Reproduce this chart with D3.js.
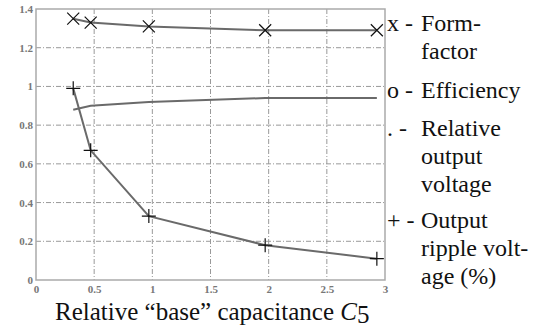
<!DOCTYPE html>
<html lang="en">
<head>
    <meta charset="UTF-8"/>
    <title>Relative base capacitance</title>
    <script src="https://d3js.org/d3.v7.min.js"></script>
    <style>
        body { margin: 0; background: white; }
        svg text { font-family: "Liberation Serif", "Times New Roman", Times, "DejaVu Serif", serif; }
    </style>
</head>
<body>
<svg id="chart" width="536" height="330"></svg>
<script>
    // values
    const capacitance = [0.32, 0.47, 0.97, 1.97, 2.93];
    const formFactor = [1.35, 1.33, 1.31, 1.29, 1.29];
    const efficiency = [0.88, 0.90, 0.92, 0.94, 0.94];
    const ripple = [0.99, 0.67, 0.33, 0.18, 0.11];

    const xTicks = [0, 0.5, 1, 1.5, 2, 2.5, 3];
    const xTickLabels = ["0", "0.5", "1", "1.5", "2", "2.5", "3"];
    const yTicks = [0, 0.2, 0.4, 0.6, 0.8, 1, 1.2, 1.4];
    const yTickLabels = ["0", "0.2", "0.4", "0.6", "0.8", "1", "1.2", "1.4"];

    const legendLines = [
        {sym: "x -", text: "Form-", y: 31},
        {sym: "", text: "factor", y: 59},
        {sym: "o -", text: "Efficiency", y: 98},
        {sym: ". -", text: "Relative", y: 136},
        {sym: "", text: "output", y: 164},
        {sym: "", text: "voltage", y: 192},
        {sym: "+ -", text: "Output", y: 228},
        {sym: "", text: "ripple volt-", y: 256},
        {sym: "", text: "age (%)", y: 284}
    ];

    const svg = d3.select("#chart");
    const pL = 36, pR = 385, pT = 9, pB = 280;

    const x = d3.scaleLinear().domain([0, 3]).range([pL, pR]);
    const y = d3.scaleLinear().domain([0, 1.4]).range([pB, pT]);

    // grid
    svg.append("g")
        .selectAll("line")
        .data(xTicks.slice(1, -1))
        .join("line")
        .attr("x1", d => x(d)).attr("x2", d => x(d))
        .attr("y1", pT).attr("y2", pB)
        .attr("stroke", "#999")
        .attr("stroke-dasharray", "5,2,1,2");
    svg.append("g")
        .selectAll("line")
        .data(yTicks.slice(1, -1))
        .join("line")
        .attr("x1", pL).attr("x2", pR)
        .attr("y1", d => y(d)).attr("y2", d => y(d))
        .attr("stroke", "#999")
        .attr("stroke-dasharray", "5,2,1,2");

    // frame
    svg.append("rect")
        .attr("x", pL).attr("y", pT)
        .attr("width", pR - pL).attr("height", pB - pT)
        .attr("fill", "none")
        .attr("stroke", "#aaa")
        .attr("stroke-width", 1.5);

    // axes
    const xAxis = svg.append("g")
        .attr("transform", `translate(0, ${pB})`)
        .call(d3.axisBottom(x).tickValues(xTicks).tickSize(0).tickPadding(5)
            .tickFormat((d, i) => xTickLabels[i]));
    xAxis.select(".domain").remove();

    const yAxis = svg.append("g")
        .attr("transform", `translate(${pL}, 0)`)
        .call(d3.axisLeft(y).tickValues(yTicks).tickSize(0).tickPadding(3)
            .tickFormat((d, i) => yTickLabels[i]));
    yAxis.select(".domain").remove();

    svg.selectAll("g").attr("font-family", null);
    svg.selectAll(".tick text")
        .attr("font-size", 11)
        .attr("font-weight", "bold")
        .attr("fill", "#777");

    // lines
    const pts = vals => capacitance.map((c, i) => [c, vals[i]]);
    const line = d3.line().x(d => x(d[0])).y(d => y(d[1]));

    [formFactor, efficiency, ripple].forEach(vals => {
        svg.append("path")
            .attr("d", line(pts(vals)))
            .attr("fill", "none")
            .attr("stroke", "#6a6a6a")
            .attr("stroke-width", 2);
    });

    // markers
    const s = 6;
    svg.append("g")
        .selectAll("path")
        .data(pts(formFactor))
        .join("path")
        .attr("d", d => `M${x(d[0]) - s},${y(d[1]) - s}L${x(d[0]) + s},${y(d[1]) + s}M${x(d[0]) - s},${y(d[1]) + s}L${x(d[0]) + s},${y(d[1]) - s}`)
        .attr("stroke", "#111")
        .attr("stroke-width", 1.2);
    svg.append("g")
        .selectAll("path")
        .data(pts(ripple))
        .join("path")
        .attr("d", d => `M${x(d[0]) - s - 1},${y(d[1])}L${x(d[0]) + s + 1},${y(d[1])}M${x(d[0])},${y(d[1]) - s - 1}L${x(d[0])},${y(d[1]) + s + 1}`)
        .attr("stroke", "#111")
        .attr("stroke-width", 1.2);

    // legend
    const leg = svg.append("g")
        .attr("font-size", 24)
        .attr("fill", "#111");
    leg.selectAll(".sym")
        .data(legendLines.filter(d => d.sym))
        .join("text")
        .attr("x", 387)
        .attr("y", d => d.y)
        .text(d => d.sym);
    leg.selectAll(".lbl")
        .data(legendLines)
        .join("text")
        .attr("x", 421)
        .attr("y", d => d.y)
        .text(d => d.text);

    // x label
    const xl = svg.append("text")
        .attr("font-size", 25)
        .attr("fill", "#111")
        .attr("x", 55)
        .attr("y", 320);
    xl.append("tspan").text("Relative \u201cbase\u201d capacitance ");
    xl.append("tspan").attr("font-style", "italic").text("C");
    xl.append("tspan").attr("dy", 3).text("5");
</script>
</body>
</html>
